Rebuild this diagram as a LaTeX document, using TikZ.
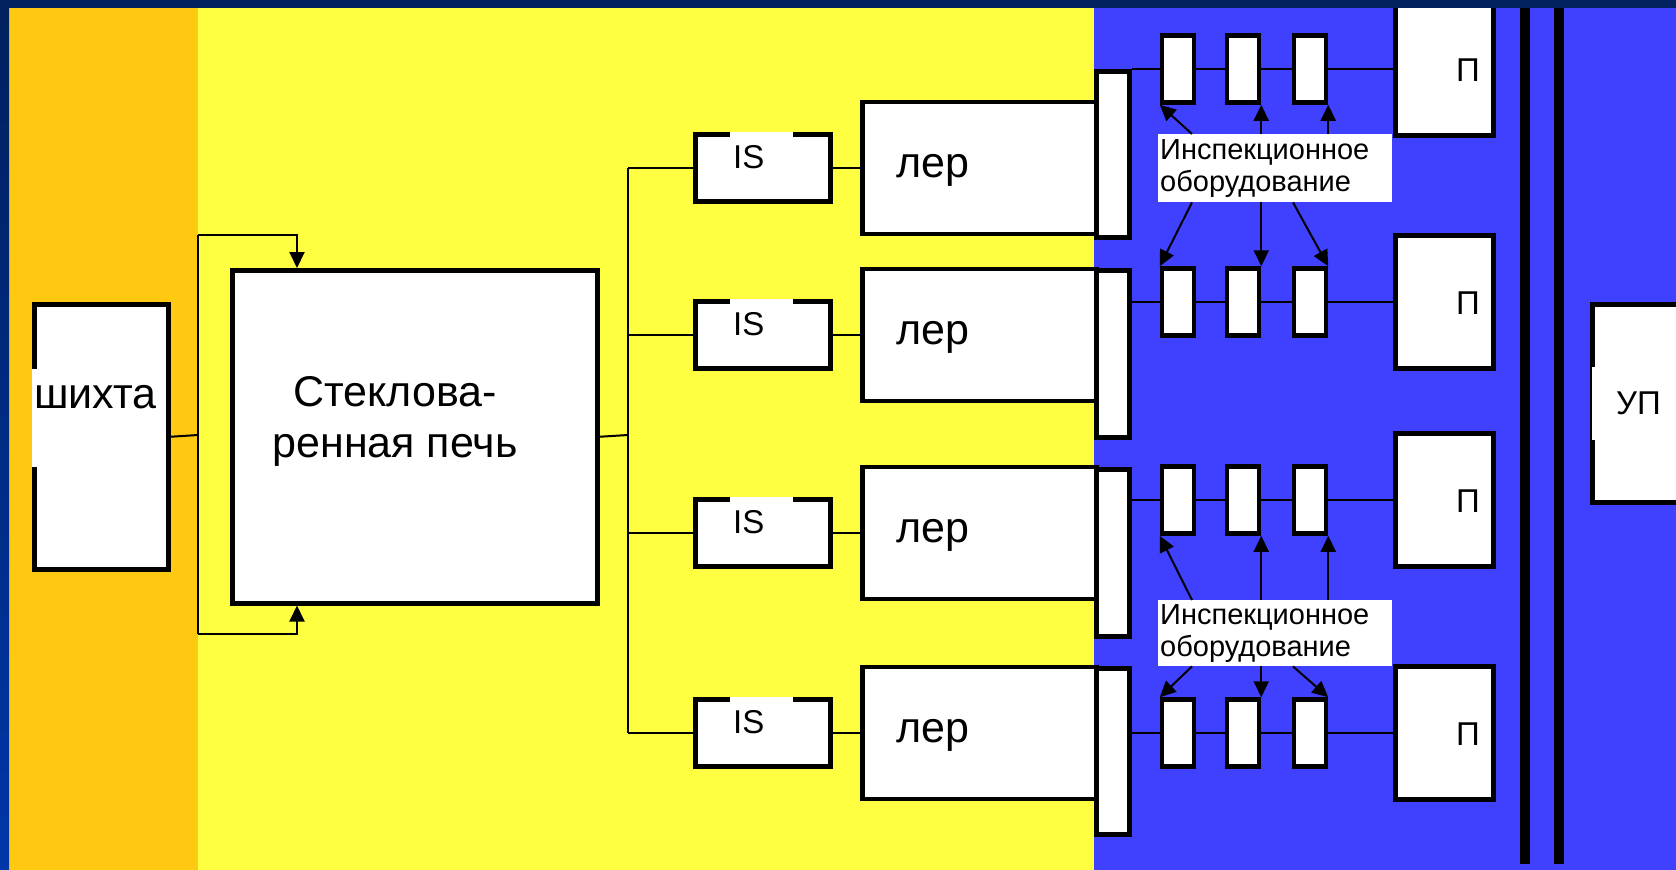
\documentclass[tikz,border=0pt]{standalone}
\usepackage{fontspec}
\setmainfont{Liberation Sans}
\usetikzlibrary{arrows.meta,calc}
\definecolor{navyband}{HTML}{00205E}
\definecolor{royalband}{HTML}{0036A8}
\definecolor{orangeband}{HTML}{FFC912}
\definecolor{yellowband}{HTML}{FFFF42}
\definecolor{blueband}{HTML}{4040FF}
\begin{document}
\begin{tikzpicture}[x=1pt,y=-1pt,>={Triangle[length=16pt,width=15pt]},
  box/.style={draw,fill=white,line width=4.5pt,inner sep=0pt},
  patch/.style={fill=white,inner ysep=0pt,anchor=base west,align=left},
  link/.style={line width=2pt},
  arrowline/.style={->,line width=2pt},
  bigtext/.style={font=\fontsize{43}{51}\selectfont},
  midtext/.style={font=\fontsize{33}{38}\selectfont},
  labeltext/.style={font=\fontsize{29}{32}\selectfont}]
\useasboundingbox (0,0) rectangle (1676,870);
\clip (0,0) rectangle (1676,870);
% background bands
\fill[orangeband] (0,0) rectangle (198,870);
\fill[yellowband] (198,0) rectangle (1094,870);
\fill[blueband] (1094,0) rectangle (1676,870);
\shade[top color=navyband,bottom color=royalband] (0,0) rectangle (9,870);
% batch and furnace
\node[box,anchor=north west,minimum width=134pt,minimum height=265pt] (shx) at (32,302) {};
\node[patch,bigtext,inner xsep=2pt,text width=130pt,text height=39pt,text depth=59pt] (shxt) at (32,408) {шихта};
\node[box,anchor=north west,minimum width=365pt,minimum height=333pt] (pech) at (230,268) {};
\node[bigtext,align=center] (pecht) at (395,421) {Стеклова-\\ренная печь};
\coordinate (fb) at (198,435);\coordinate (fbt) at (198,235);\coordinate (fbb) at (198,634);
\draw[link] (shx.east)--(fb);\draw[link] (fbt)--(fbb);
\draw[arrowline] (fbt) -| ([xshift=67pt]pech.north west);
\draw[arrowline] (fbb) -| ([xshift=67pt]pech.south west);
\coordinate (tr) at (628,435);
\draw[link] (pech.east)--(tr);
% four forming lines
\foreach \r/\yi/\yb/\tt/\tb in {1/168/69/69/235,2/335/302/268/435,3/533/500/467/634,4/733/733/666/832}{
  \node[box,anchor=west,minimum width=135pt,minimum height=67pt] (is\r) at (693,\yi) {};
  \node[patch,midtext,inner xsep=3pt,text width=57pt,text height=36pt,text depth=10pt] (ist\r) at (730,\yi) {IS};
  \node[box,anchor=west,minimum width=234pt,minimum height=132pt] (ler\r) at (860,\yi) {};
  \node[bigtext,anchor=base west] (lert\r) at (893,\yi+9) {лер};
  \node[box,anchor=north west,minimum width=33pt,minimum height={(\tb-\tt)*1pt}] (thin\r) at (1094,\tt) {};
  \foreach \c [count=\k] in {1178,1243,1310}
    \node[box,minimum width=32pt,minimum height=67pt] (s\r\k) at (\c,\yb) {};
  \node[box,anchor=west,minimum width=98pt,minimum height=133pt] (p\r) at (1393,\yb) {};
  \node[patch,midtext,inner xsep=6pt,text width=28pt,text height=44.5pt,text depth=31.5pt] (pt\r) at (1450,\yb+12.5) {П};
  \draw[link] (tr |- is\r.west)--(is\r.west);\draw[link] (is\r.east)--(ler\r.west);
  \draw[link] (thin\r.east |- s\r1.west)--(s\r1.west);\draw[link] (s\r1.east)--(s\r2.west);
  \draw[link] (s\r2.east)--(s\r3.west);\draw[link] (s\r3.east)--(p\r.west);
}
\draw[link] (tr |- is1.west)--(tr |- is4.west);
% inspection equipment
\node[fill=white,anchor=north west,labeltext,align=left,text width=230pt,inner xsep=2pt,inner ysep=0pt,minimum height=68pt] (ins1) at (1158,134) {Инспекционное\\оборудование};
\node[fill=white,anchor=north west,labeltext,align=left,text width=230pt,inner xsep=2pt,inner ysep=0pt,minimum height=66pt] (ins2) at (1158,600) {Инспекционное\\оборудование};
\draw[arrowline] ($(ins1.north west)+(34,0)$)--(s11.south west);
\draw[arrowline] (s12.south east |- ins1.north)--(s12.south east);
\draw[arrowline] (s13.south east |- ins1.north)--(s13.south east);
\draw[arrowline] ($(ins1.south west)+(34,0)$)--(s21.north west);
\draw[arrowline] (s22.north east |- ins1.south)--(s22.north east);
\draw[arrowline] ($(ins1.south west)+(135,0)$)--(s23.north east);
\draw[arrowline] ($(ins2.north west)+(34,0)$)--(s31.south west);
\draw[arrowline] (s32.south east |- ins2.north)--(s32.south east);
\draw[arrowline] (s33.south east |- ins2.north)--(s33.south east);
\draw[arrowline] ($(ins2.south west)+(34,0)$)--(s41.north west);
\draw[arrowline] (s42.north east |- ins2.south)--(s42.north east);
\draw[arrowline] ($(ins2.south west)+(135,0)$)--(s43.north east);
% packing
\node[box,anchor=north west,minimum width=120pt,minimum height=198pt] (up) at (1590,302) {};
\node[patch,midtext,inner xsep=24pt,text height=47.5pt,text depth=25pt] (upt) at (1592,414.5) {УП};
\fill (1520,8) rectangle (1530,864);\fill (1554,8) rectangle (1564,864);
\fill[navyband] (0,0) rectangle (1676,8);
\end{tikzpicture}
\end{document}
